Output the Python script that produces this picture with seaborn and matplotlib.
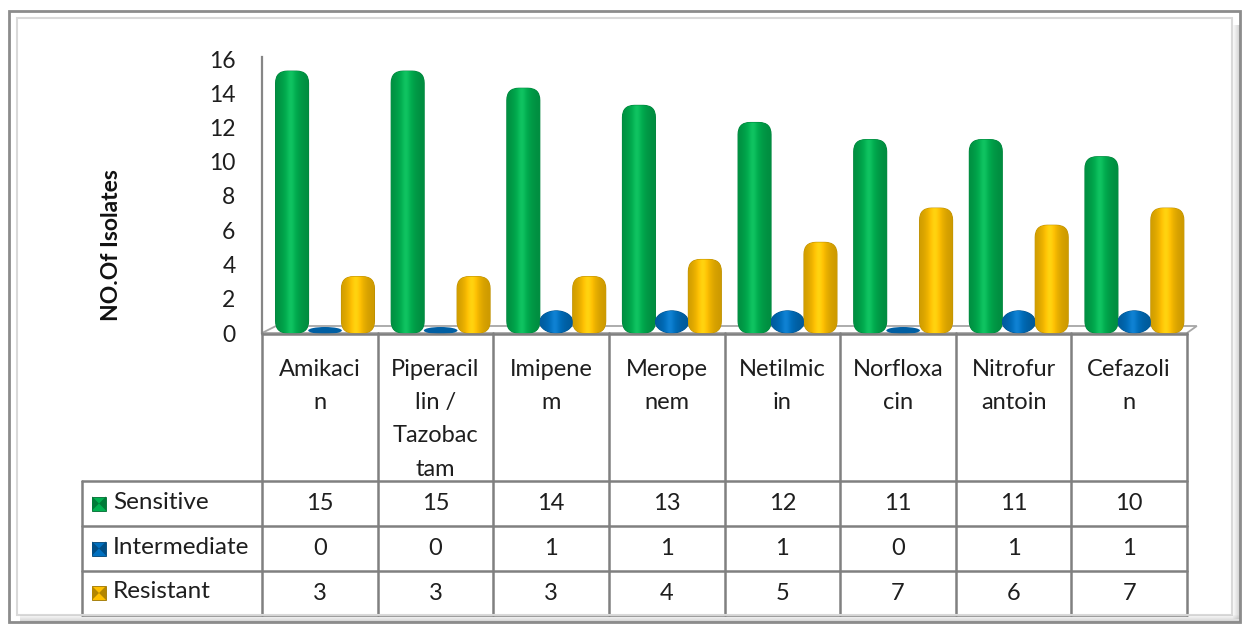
import numpy as np
import pandas as pd
import matplotlib
matplotlib.use("Agg")
import matplotlib.pyplot as plt
import matplotlib.colors as mcolors
import seaborn as sns
from matplotlib.patches import FancyBboxPatch, Rectangle, Polygon, Ellipse

# ---------------- data ----------------
categories = ["Amikacin", "Piperacillin / Tazobactam", "Imipenem", "Meropenem",
              "Netilmicin", "Norfloxacin", "Nitrofurantoin", "Cefazolin"]
category_labels = ["Amikaci\nn", "Piperacil\nlin /\nTazobac\ntam", "Imipene\nm",
                   "Merope\nnem", "Netilmic\nin", "Norfloxa\ncin", "Nitrofur\nantoin",
                   "Cefazoli\nn"]
series = ["Sensitive", "Intermediate", "Resistant"]
sensitive = [15, 15, 14, 13, 12, 11, 11, 10]
intermediate = [0, 0, 1, 1, 1, 0, 1, 1]
resistant = [3, 3, 3, 4, 5, 7, 6, 7]
y_ticks = [0, 2, 4, 6, 8, 10, 12, 14, 16]
y_label = "NO.Of Isolates"
series_colors = ["#00B050", "#0070C0", "#FFC000"]

values = {"Sensitive": sensitive, "Intermediate": intermediate, "Resistant": resistant}
df = pd.DataFrame({
    "Antibiotic": categories * len(series),
    "Status": [s for s in series for _ in categories],
    "Count": sensitive + intermediate + resistant,
})
palette = dict(zip(series, series_colors))

# ---------------- figure ----------------
W, H = 1247, 625
sns.set_style("white")
plt.rcParams["font.family"] = ["Lato", "DejaVu Sans"]
fig = plt.figure(figsize=(W / 100, H / 100), dpi=100)
TXT = "#1E1E1E"
FS = 17


def fx(x):
    return x / W


def fy(y):
    return 1 - y / H


# outer chart frame
fig.add_artist(Rectangle((fx(9), fy(622)), fx(1240) - fx(9), fy(11) - fy(622),
                         transform=fig.transFigure, fill=False, ec="#8C8C8C", lw=2))
fig.add_artist(Rectangle((fx(17), fy(615)), fx(1232) - fx(17), fy(18) - fy(615),
                         transform=fig.transFigure, fill=False, ec="#D9D9D9", lw=1.5))
for k in range(7):
    a = 0.05 + 0.05 * k
    fig.add_artist(Rectangle((fx(1233 + k), fy(619)), fx(1), fy(25) - fy(619),
                             transform=fig.transFigure, fc="#808080", ec="none", alpha=a))
    fig.add_artist(Rectangle((fx(20), fy(616 + k)), fx(1240) - fx(20), fy(0) - fy(1),
                             transform=fig.transFigure, fc="#808080", ec="none", alpha=a))

L, R, T, B = 262, 1187, 59, 333
ax = fig.add_axes([fx(L), fy(B), fx(R) - fx(L), fy(T) - fy(B)])
sns.barplot(data=df, x="Antibiotic", y="Count", hue="Status", order=categories,
            hue_order=series, palette=palette, width=0.855, saturation=1,
            legend=False, ax=ax, errorbar=None)

px_x = (R - L) / len(categories)   # px per x unit
px_y = (B - T) / 16.0              # px per y unit
aspect = px_x / px_y
shift = 0.045
cap = 5 / px_y                     # 3-D cap that rises a little above the value

bars = list(ax.patches)
t = np.linspace(0, 1, 80)
for p in bars:
    x0 = p.get_x() + shift
    w = p.get_width()
    h = p.get_height()
    base = np.array(mcolors.to_rgb(p.get_facecolor()))
    p.remove()
    dark = base * 0.75
    if h <= 0:
        e = Ellipse((x0 + w / 2, 2.5 / px_y), w * 1.02, 7 / px_y, fc=base * 0.85,
                    ec="none", zorder=3, clip_on=False)
        ax.add_patch(e)
        continue
    top = h + cap
    if h * px_y < 24:
        shape = Ellipse((x0 + w / 2, top / 2), w, top, fc=base, ec=dark, lw=0.8,
                        zorder=3, clip_on=False)
    else:
        r_x = 12.0 / px_x
        shape = FancyBboxPatch((x0, 0), w, top,
                               boxstyle=f"round,pad=0,rounding_size={r_x}",
                               mutation_aspect=aspect, fc=base, ec=dark, lw=0.8,
                               zorder=3, clip_on=False)
    ax.add_patch(shape)
    shade = 0.8 + 0.22 * np.exp(-((t - 0.45) / 0.3) ** 2)
    img = np.clip(base[None, :] * shade[:, None]
                  + 0.06 * np.exp(-((t - 0.45) / 0.12) ** 2)[:, None], 0, 1)
    im = ax.imshow(img[None, :, :], extent=(x0, x0 + w, 0, top), aspect="auto",
                   zorder=3.5, interpolation="bilinear")
    im.set_clip_path(shape)

# 3D floor
dx, dy = 14 / px_x, 7 / px_y
floor = Polygon([(-0.5, 0), (-0.5 + dx, dy), (7.5 + dx * 0.7, dy), (7.5, 0)],
                closed=True, fc="white", ec="#A6A6A6", lw=1.3, zorder=1, clip_on=False)
ax.add_patch(floor)

ax.set_xlim(-0.5, 7.5)
ax.set_ylim(0, 16)
ax.set_yticks(y_ticks)
ax.set_yticklabels([str(v) for v in y_ticks], fontsize=16.5, color=TXT)
ax.tick_params(axis="y", length=0, pad=19)
ax.set_xticks([])
ax.set_xlabel("")
ax.set_ylabel("")
for s in ["top", "right", "bottom"]:
    ax.spines[s].set_visible(False)
ax.spines["left"].set_color("#868686")
ax.spines["left"].set_linewidth(1.6)
ax.spines["left"].set_bounds(0, 16.1)
ax.patch.set_alpha(0)

fig.text(fx(111), fy(245), y_label, rotation=90, ha="center", va="center",
         fontsize=16.5, fontweight="bold", color="#111111")

# ---------------- data table ----------------
tb = 615
tax = fig.add_axes([fx(L), fy(tb), fx(R) - fx(L), fy(B) - fy(tb)])
tax.set_xlim(-0.5, 7.5)
tax.set_ylim(tb, B)
tax.axis("off")
lc, lw = "#808080", 1.8
xL = -0.5 + (82 - L) / px_x
row_lines = [481, 526, 571, 615]
tax.plot([-0.5, 7.5], [B + 1, B + 1], color=lc, lw=lw, clip_on=False)
for i in range(len(categories) + 1):
    tax.plot([-0.5 + i, -0.5 + i], [B, tb], color=lc, lw=lw, clip_on=False)
for yl in row_lines:
    tax.plot([xL, 7.5], [yl, yl], color=lc, lw=lw, clip_on=False)
tax.plot([xL, xL], [row_lines[0], tb], color=lc, lw=lw, clip_on=False)

for i, lab in enumerate(category_labels):
    tax.text(i, 359, lab, ha="center", va="top", fontsize=FS, linespacing=1.72,
             color=TXT, clip_on=False)

row_centers = [503.5, 548.5, 593]
for r, (s, col) in enumerate(zip(series, series_colors)):
    yc = row_centers[r]
    for i, v in enumerate(values[s]):
        tax.text(i, yc, str(v), ha="center", va="center", fontsize=FS, color=TXT)
    sx = -0.5 + (92 - L) / px_x
    sw = 14 / px_x
    base = np.array(mcolors.to_rgb(col))
    tax.add_patch(Rectangle((sx, yc - 7), sw, 14, fc=base, ec=base * 0.6, lw=0.6,
                            clip_on=False))
    tax.add_patch(Polygon([(sx, yc - 7), (sx + sw / 2, yc), (sx, yc + 7)], fc=base * 0.7,
                          ec="none", clip_on=False))
    tax.add_patch(Polygon([(sx + sw, yc - 7), (sx + sw / 2, yc), (sx + sw, yc + 7)],
                          fc=base * 0.7, ec="none", clip_on=False))
    tax.text(-0.5 + (113 - L) / px_x, yc - 1, s, ha="left", va="center", fontsize=17.5,
             color=TXT, clip_on=False)

fig.savefig("out.png", dpi=100, facecolor="white")
